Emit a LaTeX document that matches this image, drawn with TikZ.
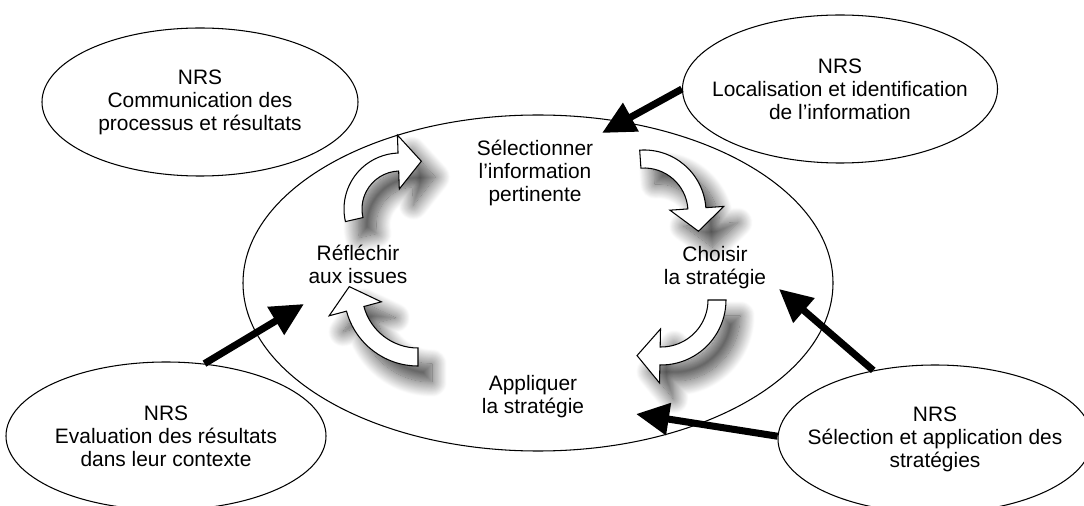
\documentclass[tikz,border=0pt]{standalone}
\usepackage{fontspec}
\setmainfont{Liberation Sans}
\usetikzlibrary{shapes.geometric, arrows.meta, shadows.blur}
\tikzstyle{bubble} = [ellipse, draw=black, semithick, inner xsep=-1.5cm, inner ysep=-0.5cm, align=center, font=\fontsize{11.9}{13.1}\selectfont]
\tikzstyle{stage} = [align=center, inner sep=0pt, font=\fontsize{11.9}{13.1}\selectfont]
\tikzstyle{push} = [line width=4pt, -{Triangle[length=6.6mm, width=6.2mm]}]
\tikzstyle{turn} = [draw=black, semithick, fill=white, blur shadow={shadow xshift=0.28cm, shadow yshift=-0.32cm, shadow blur radius=0.3cm, shadow blur steps=20, shadow opacity=75}]

% white turning arrow: centre, outer radius, tail angle, head angle
\newcommand{\cyclearrow}[4]{%
  \begin{scope}[shift={#1}]
    \path[turn] (#3:#2) arc[start angle=#3, end angle=#4, radius=#2]
      -- (#4:{#2+0.36})
      -- ({#4-atan(0.46/(#2-0.18))}:{sqrt((#2-0.18)^2+0.2116)})
      -- (#4:{#2-0.72})
      -- (#4:{#2-0.36}) arc[start angle=#4, end angle=#3, radius={#2-0.36}]
      -- cycle;
  \end{scope}}

\begin{document}
\begin{tikzpicture}
\useasboundingbox (0,0) rectangle (21.68,10.1);

% Main cycle
\node[bubble, minimum width=11.8cm, minimum height=6.72cm] (cycle) at (10.76,4.44) {};

% NRS bubbles
\node[bubble, minimum width=6.32cm, minimum height=2.96cm] (comm) at (4.00,8.06) {NRS\\Communication des\\processus et résultats};
\node[bubble, minimum width=6.30cm, minimum height=2.96cm] (loc) at (16.80,8.32) {NRS\\Localisation et identification\\de l’information};
\node[bubble, minimum width=6.40cm, minimum height=2.96cm] (eval) at (3.32,1.38) {NRS\\Evaluation des résultats\\dans leur contexte};
\node[bubble, minimum width=6.28cm, minimum height=2.96cm] (strat) at (18.70,1.32) {NRS\\Sélection et application des\\stratégies};

% Steps of the cycle
\node[stage] (select) at (10.70,6.64) {Sélectionner\\l’information\\pertinente};
\node[stage] (choose) at (14.30,4.74) {Choisir\\la stratégie};
\node[stage] (apply) at (10.66,2.16) {Appliquer\\la stratégie};
\node[stage] (reflect) at (7.16,4.82) {Réfléchir\\aux issues};

% Turning arrows
\cyclearrow{(8.00,5.92)}{1.12}{193}{92}
\cyclearrow{(12.88,5.86)}{1.24}{94}{4}
\cyclearrow{(13.22,4.10)}{1.30}{0}{-91}
\cyclearrow{(8.36,4.26)}{1.48}{270}{195}

% NRS inputs
\coordinate (selin) at (12.04,7.44);
\coordinate (reflin) at (6.08,4.02);
\coordinate (choosein) at (15.58,4.32);
\coordinate (applyin) at (12.72,1.82);

\draw[push] (loc.180) -- (selin);
\draw[push] (eval.62) -- (reflin);
\draw[push] (strat.132) -- (choosein);
\draw[push] (strat.179) -- (applyin);

\end{tikzpicture}
\end{document}
